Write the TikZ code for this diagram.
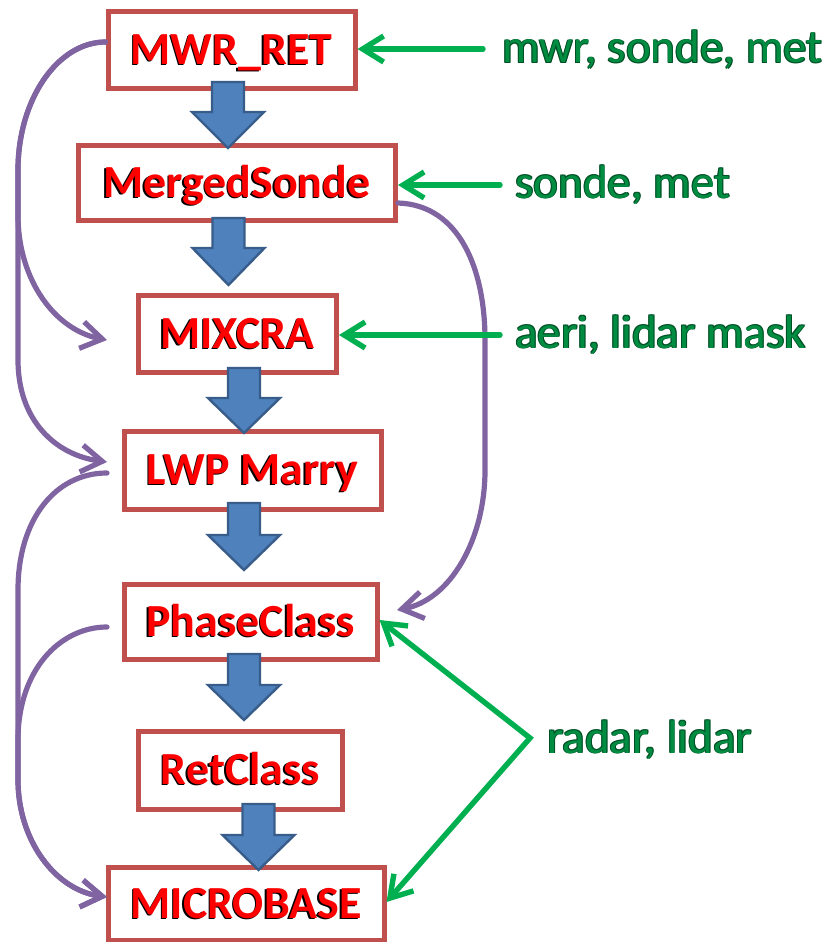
\documentclass[tikz,border=0pt]{standalone}
\usepackage{fontspec}
\setmainfont{Carlito}
\usetikzlibrary{arrows.meta}
\definecolor{boxred}{RGB}{192,80,77}
\definecolor{txtred}{RGB}{255,0,0}
\definecolor{blkfill}{RGB}{79,129,189}
\definecolor{blkdraw}{RGB}{56,93,138}
\definecolor{purp}{RGB}{128,100,162}
\definecolor{garr}{RGB}{0,176,80}
\definecolor{gtxt}{RGB}{0,140,65}
\definecolor{gdark}{RGB}{0,80,38}
\newcommand\redtxt[1]{\leavevmode\rlap{\kern-1.4pt\raisebox{-1pt}{\color{black}#1}}#1}
\newcommand\grntxt[1]{\leavevmode\rlap{\kern-0.9pt\raisebox{0.9pt}{\color{gdark}#1}}\rlap{\kern0.9pt\raisebox{-0.9pt}{\color{gdark}#1}}\rlap{\kern0.9pt\raisebox{0.9pt}{\color{gdark}#1}}\rlap{\kern-0.9pt\raisebox{-0.9pt}{\color{gdark}#1}}#1}
\newcommand\blockarrow[4]{\filldraw[fill=blkfill, draw=blkdraw, line width=2.4pt, line join=miter] (#1-16,#2) -- (#1+16,#2) -- (#1+16,#3) -- (#1+36,#3) -- (#1,#4) -- (#1-36,#3) -- (#1-16,#3) -- cycle;}
\begin{document}
\begin{tikzpicture}[x=1pt,y=-1pt,
  box/.style={draw=boxred, line width=5pt, fill=white, rectangle, inner sep=0pt,
    text height=29.6pt, text depth=0pt, font=\fontsize{46}{50}\selectfont\bfseries, text=txtred},
  lbl/.style={anchor=base west, inner sep=0pt, font=\fontsize{47}{52}\selectfont, text=gtxt},
  garrow/.style={draw=garr, line width=5.4pt, line cap=round, line join=miter,
    -{Straight Barb[length=21pt,width=26pt]}},
  parrow/.style={draw=purp, line width=5.2pt, line cap=round,
    -{Straight Barb[length=21pt,width=27pt]}},
]
\useasboundingbox (0,0) rectangle (834,942);

% boxes
\node[box, minimum width=247pt, minimum height=77pt] (mwr) at (231.5,50) {\redtxt{MWR\_RET}};
\node[box, minimum width=317.5pt, minimum height=75pt] (ms) at (236.75,183) {\redtxt{MergedSonde}};
\node[box, minimum width=198pt, minimum height=77.5pt] (mix) at (237.5,333.75) {\redtxt{MIXCRA}};
\node[box, minimum width=257pt, minimum height=78pt] (lwp) at (252.5,470) {\redtxt{LWP Marry}};
\node[box, minimum width=253pt, minimum height=75pt] (ph) at (250.5,621.5) {\redtxt{PhaseClass}};
\node[box, minimum width=204pt, minimum height=78pt] (ret) at (240.5,770) {\redtxt{RetClass}};
\node[box, minimum width=276pt, minimum height=73pt] (mb) at (246,904) {\redtxt{MICROBASE}};

% block arrows
\blockarrow{228}{82}{112}{148}
\blockarrow{228.5}{218}{248}{285}
\blockarrow{244}{368}{398}{433}
\blockarrow{244}{503}{535}{570}
\blockarrow{244}{654}{685}{720}
\blockarrow{258.5}{804}{835}{870}

% purple curves
\coordinate (pA) at (107,340);
\coordinate (pB) at (107,462);
\coordinate (pc) at (107,473);
\coordinate (pd) at (107,627);
\coordinate (pM) at (107,897);
\coordinate (pE) at (397,610);
\draw[parrow] ([yshift=8pt]mwr.west) .. controls (58,42) and (18,99) .. (18,170) -- (18,215) .. controls (18,280) and (55,330) .. (pA);
\draw[parrow] ([yshift=8pt]mwr.west) .. controls (58,42) and (18,99) .. (18,170) -- (18,360) .. controls (18,420) and (55,455) .. (pB);
\draw[parrow] (pc) .. controls (55,473) and (18,520) .. (18,590) -- (18,780) .. controls (18,840) and (55,890) .. (pM);
\draw[parrow] (pd) .. controls (60,627) and (18,670) .. (18,740) -- (18,780) .. controls (18,840) and (55,890) .. (pM);
\draw[parrow] ([yshift=-20pt]ms.east) .. controls (460,205) and (485,270) .. (485,340) -- (485,470) .. controls (485,540) and (450,600) .. (pE);

% green arrows
\coordinate (g1) at (483,49);
\coordinate (g2) at (500,185);
\coordinate (g3) at (500,335);
\coordinate (j) at (530,738);
\draw[garrow] (g1) -- (g1 -| mwr.east);
\draw[garrow] (g2) -- (g2 -| ms.east);
\draw[garrow] (g3) -- (g3 -| mix.east);
\draw[garrow, {Straight Barb[length=21pt,width=26pt]}-{Straight Barb[length=21pt,width=26pt]}] ([yshift=1.5pt]ph.east) -- (j) -- ([yshift=2pt]mb.east);

% labels
\node[lbl] (l1) at (502,63) {\grntxt{mwr, sonde, met}};
\node[lbl] (l2) at (515,198) {\grntxt{sonde, met}};
\node[lbl] (l3) at (515,348) {\grntxt{aeri, lidar mask}};
\node[lbl] (l4) at (547,753) {\grntxt{radar, lidar}};
\end{tikzpicture}
\end{document}
